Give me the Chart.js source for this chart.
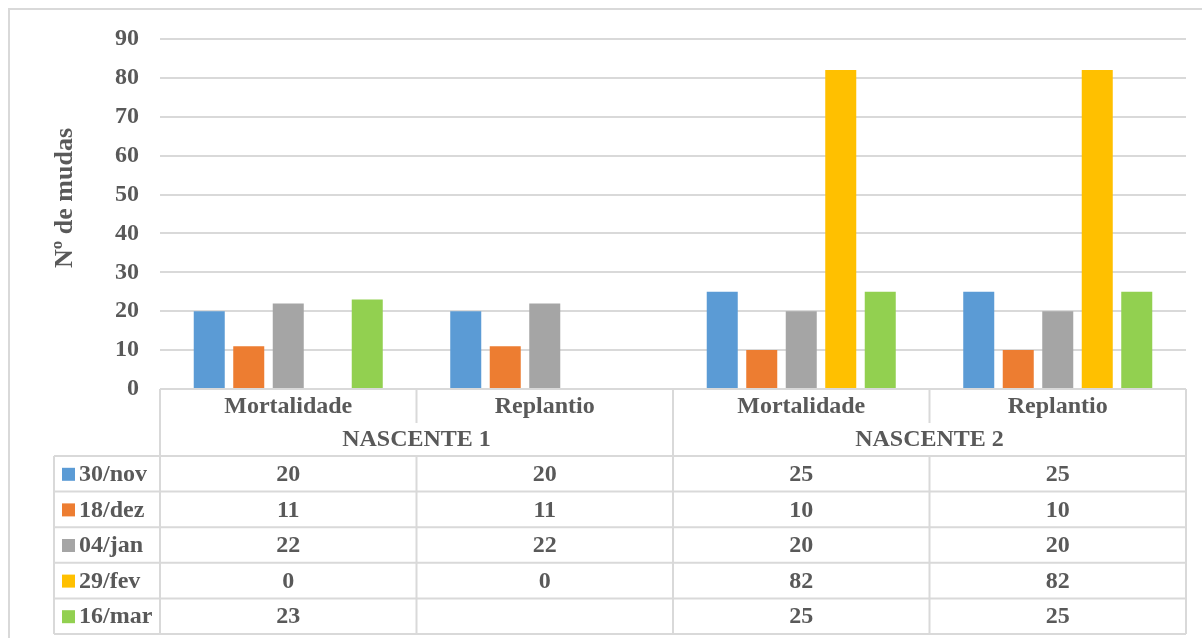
<!DOCTYPE html>
<html>
<head>
<meta charset="utf-8">
<script src="https://cdn.jsdelivr.net/npm/chart.js@4/dist/chart.umd.min.js"></script>
<style>
  html, body { margin: 0; padding: 0; background: #ffffff; }
  #wrap { width: 1202px; height: 638px; position: relative; }
</style>
</head>
<body>
<div id="wrap"><canvas id="c" width="1202" height="638"></canvas></div>
<script>
// Categories: two springs, each with mortality and replanting counts
const categories = ["Mortalidade", "Replantio", "Mortalidade", "Replantio"];
const groups = ["NASCENTE 1", "NASCENTE 2"];
const seriesNames = ["30/nov", "18/dez", "04/jan", "29/fev", "16/mar"];
const nov30 = [20, 20, 25, 25];
const dez18 = [11, 11, 10, 10];
const jan04 = [22, 22, 20, 20];
const fev29 = [0, 0, 82, 82];
const mar16 = [23, null, 25, 25];
const yTicks = [0, 10, 20, 30, 40, 50, 60, 70, 80, 90];
const axisTitle = "Nº de mudas";

const colors = ["#5B9BD5", "#ED7D31", "#A5A5A5", "#FFC000", "#92D050"];
const seriesValues = [nov30, dez18, jan04, fev29, mar16];
const textColor = "#595959";
const lineColor = "#D9D9D9";
const FONT = '"Liberation Serif", "Times New Roman", serif';

// Data table under the plot: rows share the category scale of the bars
const dataTable = {
  id: "dataTable",
  afterDraw(chart) {
    const ctx = chart.ctx;
    const x = chart.scales.x;
    const area = chart.chartArea;
    const n = categories.length;
    const colW = (area.right - area.left) / n;
    const edge = i => area.left + i * colW;
    const top = area.bottom;
    const catBottom = top + 34;
    const groupBottom = top + 67;
    const rowH = 35.6;
    const rowTop = r => groupBottom + r * rowH;
    const tableBottom = rowTop(seriesNames.length);
    const legendLeft = 54;

    ctx.save();
    // outer frame (top and left edges lie inside the canvas)
    ctx.strokeStyle = lineColor;
    ctx.lineWidth = 2;
    ctx.beginPath();
    ctx.moveTo(9, 660); ctx.lineTo(9, 9); ctx.lineTo(1220, 9);
    ctx.stroke();

    // table grid
    ctx.lineWidth = 2;
    ctx.beginPath();
    ctx.moveTo(area.left, top); ctx.lineTo(area.right, top);
    for (let r = 0; r <= seriesNames.length; r++) {
      ctx.moveTo(legendLeft, rowTop(r)); ctx.lineTo(area.right, rowTop(r));
    }
    ctx.moveTo(legendLeft, groupBottom); ctx.lineTo(legendLeft, tableBottom);
    for (let i = 0; i <= n; i++) {
      const xx = edge(i);
      const groupEdge = i % 2 === 0;
      ctx.moveTo(xx, groupEdge ? top : top);
      if (groupEdge) {
        ctx.lineTo(xx, tableBottom);
      } else {
        ctx.lineTo(xx, catBottom);
        ctx.moveTo(xx, groupBottom);
        ctx.lineTo(xx, tableBottom);
      }
    }
    ctx.stroke();

    // header texts
    ctx.fillStyle = textColor;
    ctx.font = "bold 24px " + FONT;
    ctx.textAlign = "center";
    ctx.textBaseline = "middle";
    categories.forEach((c, i) => {
      ctx.fillText(c, x.getPixelForValue(i), top + 18);
    });
    groups.forEach((g, gi) => {
      ctx.fillText(g, (edge(gi * 2) + edge(gi * 2 + 2)) / 2, top + 51);
    });

    // rows: legend key, series name, values
    seriesNames.forEach((name, r) => {
      const cy = rowTop(r) + rowH / 2 + 1;
      ctx.fillStyle = colors[r];
      ctx.fillRect(62, cy - 7, 13, 13);
      ctx.fillStyle = textColor;
      ctx.textAlign = "left";
      ctx.fillText(name, 79, cy);
      ctx.textAlign = "center";
      seriesValues[r].forEach((v, i) => {
        if (v !== null && v !== undefined) {
          ctx.fillText(String(v), x.getPixelForValue(i), cy);
        }
      });
    });

    // vertical axis title
    ctx.save();
    ctx.translate(65, 198);
    ctx.rotate(-Math.PI / 2);
    ctx.font = "bold 26px " + FONT;
    ctx.textAlign = "center";
    ctx.textBaseline = "middle";
    ctx.fillText(axisTitle, 0, 0);
    ctx.restore();
    ctx.restore();
  }
};

new Chart(document.getElementById("c"), {
  type: "bar",
  data: {
    labels: categories,
    datasets: seriesNames.map((name, i) => ({
      label: name,
      data: seriesValues[i],
      backgroundColor: colors[i],
      borderWidth: 0,
      categoryPercentage: 0.77,
      barPercentage: 0.785
    }))
  },
  options: {
    responsive: false,
    animation: false,
    layout: { padding: { left: 9, right: 16, top: 39, bottom: 249 } },
    plugins: {
      legend: { display: false },
      tooltip: { enabled: false }
    },
    scales: {
      x: { display: false },
      y: {
        min: 0,
        max: 90,
        afterBuildTicks(scale) {
          scale.ticks = yTicks.map(v => ({ value: v }));
        },
        afterFit(scale) { scale.width = 151; },
        border: { display: false },
        grid: { color: lineColor, lineWidth: 2, drawTicks: false },
        ticks: {
          padding: 21,
          color: textColor,
          font: { family: FONT, size: 24, weight: "bold" }
        }
      }
    }
  },
  plugins: [dataTable]
});
</script>
</body>
</html>
